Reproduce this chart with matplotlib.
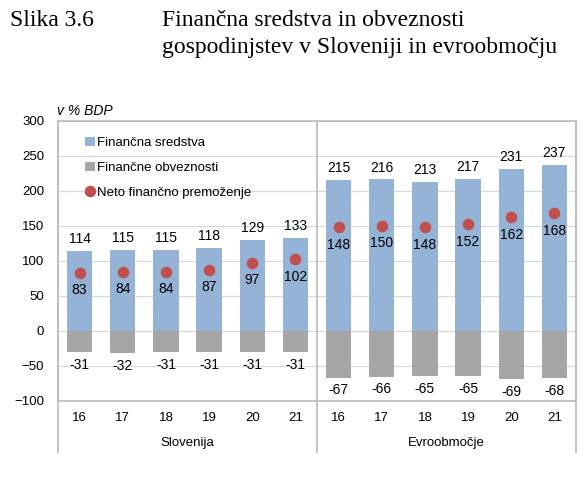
import matplotlib.pyplot as plt
import numpy as np

years = ['16', '17', '18', '19', '20', '21']
groups = ['Slovenija', 'Evroobmočje']

sredstva = [114, 115, 115, 118, 129, 133, 215, 216, 213, 217, 231, 237]
obveznosti = [-31, -32, -31, -31, -31, -31, -67, -66, -65, -65, -69, -68]
neto = [83, 84, 84, 87, 97, 102, 148, 150, 148, 152, 162, 168]

blue = '#95B3D7'
grey = '#A6A6A6'
red = '#C0504D'
linec = '#BFBFBF'

plt.rcParams['font.family'] = ['Liberation Sans', 'DejaVu Sans']

fig = plt.figure(figsize=(5.84, 4.86), dpi=100)
ax = fig.add_axes([58/584, 1-400.7/486, 518/584, 280/486])

x = np.arange(len(sredstva))
b1 = ax.bar(x, sredstva, width=0.59, color=blue, zorder=2, label='Finančna sredstva')
b2 = ax.bar(x, obveznosti, width=0.59, color=grey, zorder=2, label='Finančne obveznosti')
p1, = ax.plot(x, neto, 'o', color=red, markersize=7.3, zorder=3, label='Neto finančno premoženje')

# oznake podatkov
for i in range(len(x)):
    ax.annotate(str(sredstva[i]), (x[i], sredstva[i]), xytext=(0, 8.6), textcoords='offset points',
                ha='center', va='center', fontsize=10)
    ax.annotate(str(neto[i]), (x[i], neto[i]), xytext=(0, -12.6), textcoords='offset points',
                ha='center', va='center', fontsize=10)
    ax.annotate(str(obveznosti[i]), (x[i], obveznosti[i]), xytext=(0, -9), textcoords='offset points',
                ha='center', va='center', fontsize=10)

ax.set_xlim(-0.5, len(x) - 0.5)
ax.set_ylim(-100, 300)
ax.set_yticks(np.arange(-100, 301, 50))
ax.tick_params(axis='y', length=0, pad=10, labelsize=9.5)
ax.set_xticks([])
ax.grid(axis='y', color='#D9D9D9', linewidth=0.9, zorder=0)
ax.set_axisbelow(True)
for s in ax.spines.values():
    s.set_color(linec)
    s.set_linewidth(1.3)

# kategorije: leta in skupine
tr = ax.get_xaxis_transform()
for i in range(len(x)):
    ax.text(x[i], -0.062, years[i % 6], transform=tr, ha='center', va='center', fontsize=9.5)
for g, name in enumerate(groups):
    ax.text(2.5 + 6 * g, -0.151, name, transform=tr, ha='center', va='center', fontsize=9.5)
for xv in [-0.5, 5.5, 11.5]:
    ax.plot([xv, xv], [-0.183, 1], transform=tr, color=linec, linewidth=1.3, clip_on=False, zorder=1)

ax.legend(handles=[b1, b2, p1], loc='upper left', bbox_to_anchor=(0.03, 0.985), frameon=False,
          fontsize=9.5, handlelength=0.7, handleheight=0.7, handletextpad=0.2, labelspacing=0.95,
          markerscale=1.0)

ax.text(-0.002, 1.01, 'v % BDP', transform=ax.transAxes, fontsize=10, style='italic',
        ha='left', va='bottom')

fig.text(10/584, 1-26/486, 'Slika 3.6', family='Liberation Serif', fontsize=17, va='baseline')
fig.text(162/584, 1-26/486, 'Finančna sredstva in obveznosti', family='Liberation Serif',
         fontsize=17, va='baseline')
fig.text(162/584, 1-53/486, 'gospodinjstev v Sloveniji in evroobmočju', family='Liberation Serif',
         fontsize=17, va='baseline')

fig.savefig('out.png', dpi=100)
